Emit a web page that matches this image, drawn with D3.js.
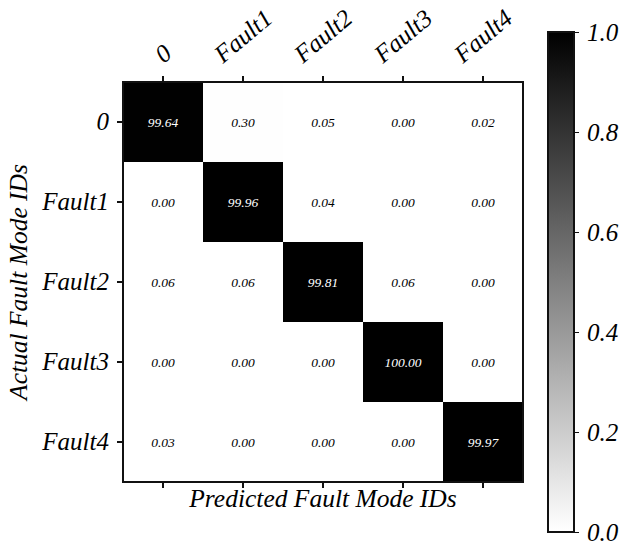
<!DOCTYPE html>
<html lang="en">
<head>
  <meta charset="UTF-8">
  <title>Confusion Matrix</title>
  <script src="https://d3js.org/d3.v7.min.js"></script>
  <style>
    body {
      margin: 0;
      background: #fff;
      font-family: "Liberation Serif", "Times New Roman", serif;
    }

    text {
      font-style: italic;
    }

    .axis path,
    .axis line {
      stroke: #111;
      stroke-width: 1.1;
      shape-rendering: crispEdges;
    }

    .axis text {
      font-family: "Liberation Serif", serif;
      font-size: 25px;
      fill: #000;
    }
  </style>
</head>
<body>
  <div id="chart"></div>

  <script>
    // Labels for predicted (columns) and actual (rows)
    const predictedIds = ["0", "Fault1", "Fault2", "Fault3", "Fault4"];
    const actualIds = ["0", "Fault1", "Fault2", "Fault3", "Fault4"];

    // Percentages per row (actual -> predicted)
    const row0 = [99.64, 0.30, 0.05, 0.00, 0.02];
    const row1 = [0.00, 99.96, 0.04, 0.00, 0.00];
    const row2 = [0.06, 0.06, 99.81, 0.06, 0.00];
    const row3 = [0.00, 0.00, 0.00, 100.00, 0.00];
    const row4 = [0.03, 0.00, 0.00, 0.00, 99.97];
    const rows = [row0, row1, row2, row3, row4];

    const colorbarTicks = [0, 0.2, 0.4, 0.6, 0.8, 1.0];

    const width = 622;
    const height = 547;
    const plot = { left: 123, top: 82, size: 400 };
    const cbar = { left: 548, width: 26, top: 32, bottom: 532 };

    // flatten into cells
    const cells = [];
    rows.forEach((r, i) => r.forEach((v, j) => cells.push({ row: actualIds[i], col: predictedIds[j], v: v })));

    const x = d3.scaleBand()
                .domain(predictedIds)
                .range([plot.left, plot.left + plot.size]);

    const y = d3.scaleBand()
                .domain(actualIds)
                .range([plot.top, plot.top + plot.size]);

    // gray_r style: 0 -> white, 1 -> black
    const color = d3.scaleLinear()
                    .domain([0, 1])
                    .range(["#ffffff", "#000000"])
                    .interpolate(d3.interpolateRgb);

    const svg = d3.select("#chart")
                  .append("svg")
                  .attr("width", width)
                  .attr("height", height);

    // cells
    svg.selectAll(".cell")
       .data(cells)
       .enter()
       .append("rect")
       .attr("class", "cell")
       .attr("x", d => x(d.col))
       .attr("y", d => y(d.row))
       .attr("width", x.bandwidth())
       .attr("height", y.bandwidth())
       .attr("fill", d => color(d.v / 100))
       .attr("shape-rendering", "crispEdges");

    // cell values
    svg.selectAll(".val")
       .data(cells)
       .enter()
       .append("text")
       .attr("class", "val")
       .attr("x", d => x(d.col) + x.bandwidth() / 2)
       .attr("y", d => y(d.row) + y.bandwidth() / 2)
       .attr("text-anchor", "middle")
       .attr("dominant-baseline", "central")
       .style("font-size", "13.5px")
       .style("fill", d => d.v / 100 > 0.5 ? "#fff" : "#000")
       .text(d => d.v.toFixed(2));

    // frame
    svg.append("rect")
       .attr("x", plot.left)
       .attr("y", plot.top)
       .attr("width", plot.size)
       .attr("height", plot.size)
       .attr("fill", "none")
       .attr("stroke", "#111")
       .attr("stroke-width", 1.1)
       .attr("shape-rendering", "crispEdges");

    // top axis with rotated labels
    const angle = 40;
    const topAxis = svg.append("g")
       .attr("class", "axis")
       .attr("transform", `translate(0,${plot.top})`)
       .call(d3.axisTop(x).tickSize(6).tickSizeOuter(0));
    topAxis.select(".domain").remove();
    topAxis.selectAll(".tick text").each(function() {
      const t = d3.select(this);
      t.attr("text-anchor", "middle").attr("dominant-baseline", "central").attr("y", 0).attr("dy", null);
      const bb = this.getBBox();
      const rad = angle * Math.PI / 180;
      const halfH = (bb.width * Math.sin(rad) + bb.height * 0.8 * Math.cos(rad)) / 2;
      const cy = -6 - 10 - halfH;
      t.attr("transform", `translate(0,${cy}) rotate(${-angle})`);
    });

    // bottom axis, ticks only
    const bottomAxis = svg.append("g")
       .attr("class", "axis")
       .attr("transform", `translate(0,${plot.top + plot.size})`)
       .call(d3.axisBottom(x).tickSize(6).tickSizeOuter(0).tickFormat(""));
    bottomAxis.select(".domain").remove();

    // left axis
    const leftAxis = svg.append("g")
       .attr("class", "axis")
       .attr("transform", `translate(${plot.left},0)`)
       .call(d3.axisLeft(y).tickSize(6).tickPadding(8).tickSizeOuter(0));
    leftAxis.select(".domain").remove();

    // axis titles
    svg.append("text")
       .attr("x", plot.left + plot.size / 2)
       .attr("y", 507)
       .attr("text-anchor", "middle")
       .style("font-size", "25.5px")
       .text("Predicted Fault Mode IDs");

    svg.append("text")
       .attr("transform", `translate(27,${plot.top + plot.size / 2}) rotate(-90)`)
       .attr("text-anchor", "middle")
       .style("font-size", "25.5px")
       .text("Actual Fault Mode IDs");

    // colorbar
    const defs = svg.append("defs");
    const grad = defs.append("linearGradient")
       .attr("id", "cbgrad")
       .attr("x1", "0").attr("y1", "1")
       .attr("x2", "0").attr("y2", "0");
    d3.range(0, 1.0001, 0.1).forEach(s => {
      grad.append("stop").attr("offset", s).attr("stop-color", color(s));
    });

    const cScale = d3.scaleLinear()
                     .domain([0, 1])
                     .range([cbar.bottom, cbar.top]);

    svg.append("rect")
       .attr("x", cbar.left)
       .attr("y", cScale(1))
       .attr("width", cbar.width)
       .attr("height", cScale(0) - cScale(1))
       .attr("fill", "url(#cbgrad)")
       .attr("stroke", "#111")
       .attr("stroke-width", 1.1)
       .attr("shape-rendering", "crispEdges");

    const cAxis = svg.append("g")
       .attr("class", "axis")
       .attr("transform", `translate(${cbar.left + cbar.width},0)`)
       .call(d3.axisRight(cScale).tickValues(colorbarTicks).tickFormat(d3.format(".1f")).tickSize(5).tickPadding(8));
    cAxis.select(".domain").remove();
  </script>
</body>
</html>
